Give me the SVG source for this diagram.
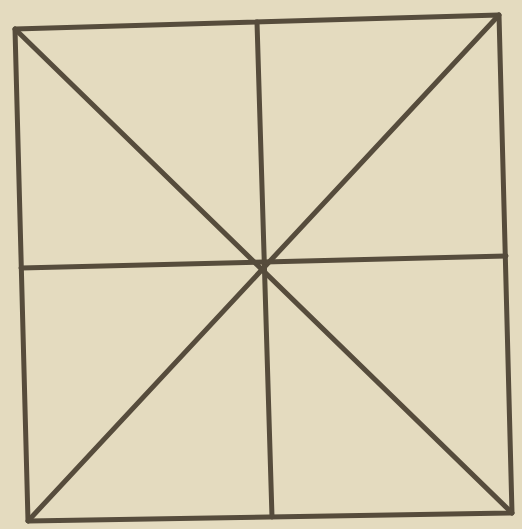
<svg xmlns="http://www.w3.org/2000/svg" width="522" height="529" viewBox="0 0 522 529">
<style>
.ln{stroke:#564c3c;stroke-width:5;fill:none;stroke-linecap:round;stroke-linejoin:round}
</style>
<rect width="522" height="529" fill="#e4dbbf"/>
<g id="square">
<polygon class="ln" points="15,29 499,15 512,513 28,521"/>
</g>
<g id="connectors">
<line class="ln" x1="15" y1="29" x2="512" y2="513"/>
<line class="ln" x1="499" y1="15" x2="28" y2="521"/>
<line class="ln" x1="257" y1="22" x2="272" y2="517"/>
<line class="ln" x1="21" y1="268" x2="506" y2="256"/>
</g>
</svg>
